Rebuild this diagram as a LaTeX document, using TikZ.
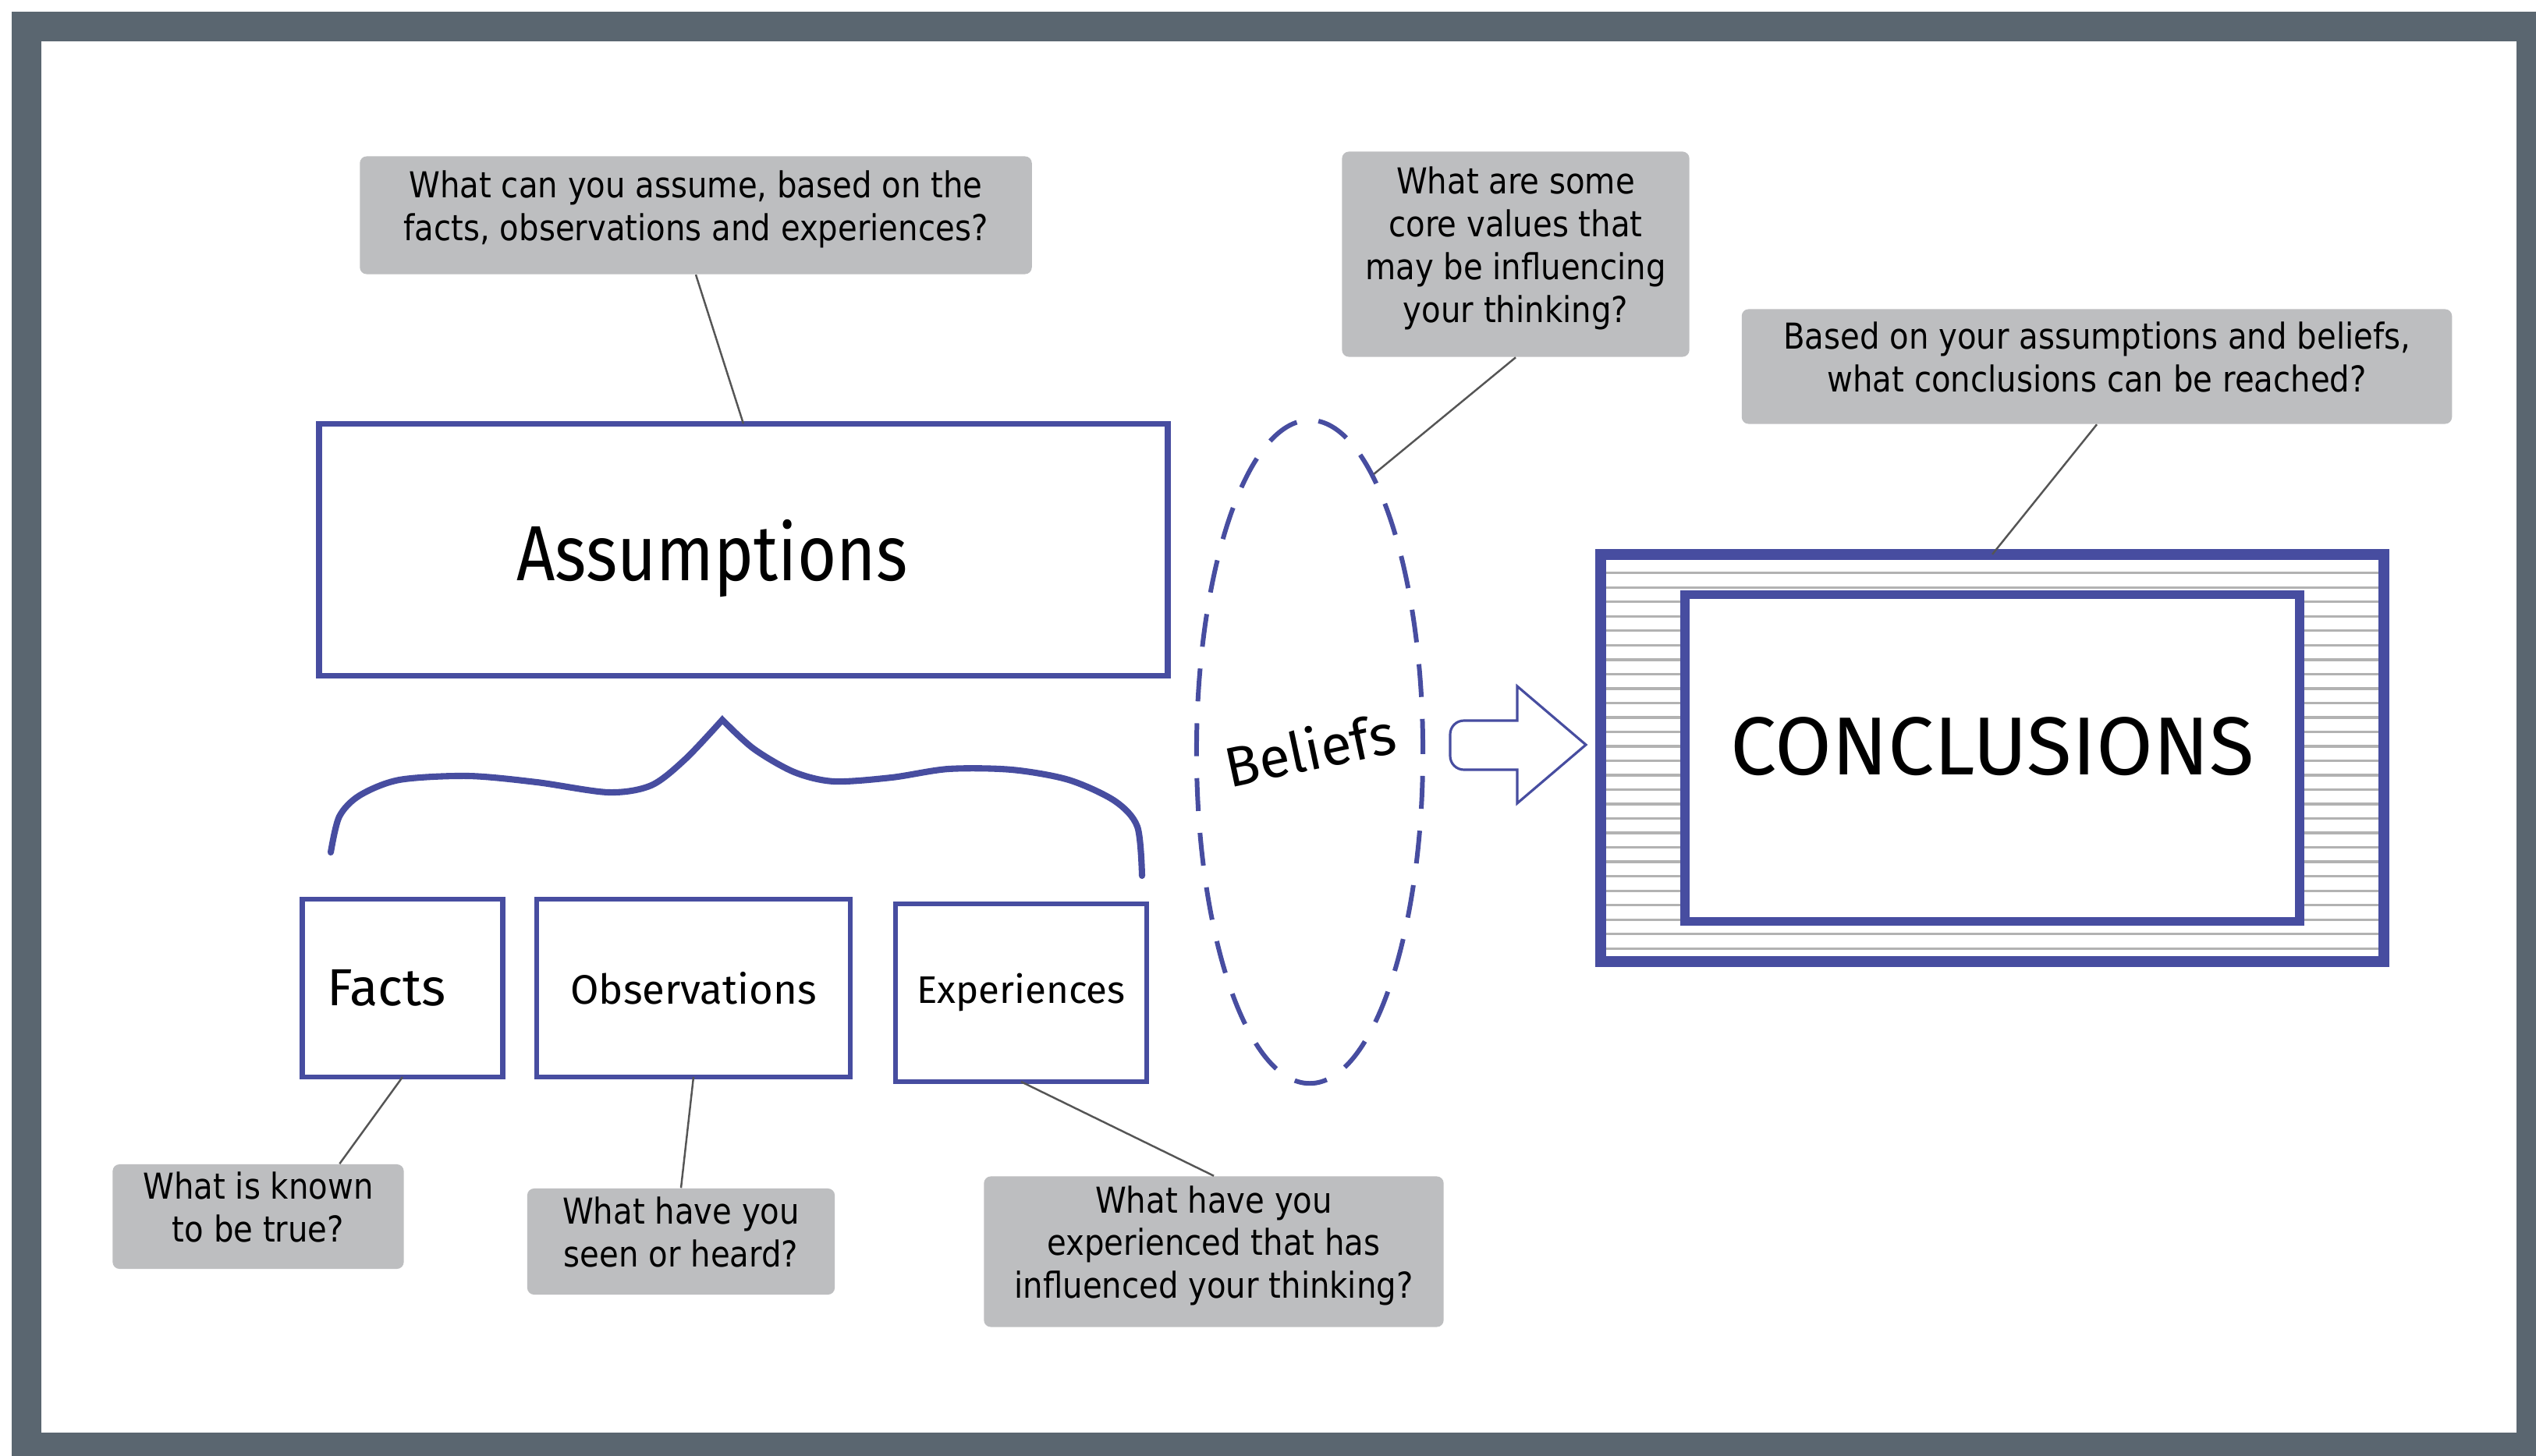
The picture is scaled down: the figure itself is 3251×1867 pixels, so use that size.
\documentclass[tikz,border=0pt]{standalone}
\usepackage{fontspec}
\usetikzlibrary{shapes.geometric}
\newfontfamily\qfont[FakeStretch=0.88]{DejaVu Sans}
\newfontfamily\handfont{Fira Sans}
\newfontfamily\handnarrow[FakeStretch=0.86]{Fira Sans}
\definecolor{sketchblue}{RGB}{71,77,160}
\definecolor{framegray}{RGB}{90,102,112}
\definecolor{qgray}{RGB}{189,190,192}
\definecolor{linkgray}{RGB}{85,85,85}
\definecolor{hatchgray}{RGB}{178,178,178}
\tikzset{
  qbox/.style={fill=qgray, rounded corners=2.5pt, inner sep=0pt, align=center,
    text depth=0.25cm, font=\qfont\fontsize{13}{15.6}\selectfont},
  sketchbox/.style={draw=sketchblue, line width=1.9pt, fill=white, inner sep=0pt, outer sep=0pt},
  link/.style={draw=linkgray, line width=0.7pt},
  brace/.style={draw=sketchblue, line width=2.3pt, line cap=round},
  hatch/.style={draw=hatchgray, line width=0.9pt},
  arrowline/.style={draw=sketchblue, line width=0.9pt, fill=white}
}
\begin{document}
\begin{tikzpicture}[x=0.01cm,y=-0.01cm]
  \useasboundingbox (0,0) rectangle (3251,1867);
  % frame
  \fill[framegray] (15,15) rectangle (3251,1867);
  \fill[white] (53,53) rectangle (3226,1837);

  % questions
  \node[qbox, minimum width=8.61cm, minimum height=1.51cm] (qassump) at (892,276)
    {What can you assume, based on the\\facts, observations and experiences?};
  \node[qbox, minimum width=4.45cm, minimum height=2.63cm] (qbelief) at (1943,326)
    {What are some\\core values that\\may be influencing\\your thinking?};
  \node[qbox, minimum width=9.10cm, minimum height=1.47cm] (qconcl) at (2688,470)
    {Based on your assumptions and beliefs,\\what conclusions can be reached?};
  \node[qbox, minimum width=3.73cm, minimum height=1.34cm] (qfacts) at (331,1560)
    {What is known\\to be true?};
  \node[qbox, minimum width=3.94cm, minimum height=1.36cm] (qobs) at (873,1592)
    {What have you\\seen or heard?};
  \node[qbox, minimum width=5.89cm, minimum height=1.93cm] (qexper) at (1556,1605)
    {What have you\\experienced that has\\influenced your thinking?};

  % assumptions and what they rest on
  \node[sketchbox, line width=2.2pt, minimum width=10.87cm, minimum height=3.23cm, text depth=0pt,
    font=\handnarrow\fontsize{28.5}{34}\selectfont] (assump) at (953,705) {\hspace*{-0.8cm}Assumptions};
  \node[sketchbox, minimum width=2.57cm, minimum height=2.28cm,
    font=\handfont\fontsize{19}{23}\selectfont] (facts) at (516,1267) {\hspace*{-0.4cm}Facts};
  \node[sketchbox, minimum width=4.02cm, minimum height=2.28cm,
    font=\handfont\fontsize{15}{19}\selectfont] (obs) at (889,1267) {Observations};
  \node[sketchbox, minimum width=3.22cm, minimum height=2.28cm,
    font=\handfont\fontsize{14}{18}\selectfont] (exper) at (1309,1273) {Experiences};

  \draw[brace] plot[smooth] coordinates {(424,1093) (435,1047) (461,1020) (512,1000) (600,995)
      (688,1003) (780,1016) (835,1007) (879,973) (926,923)}
    -- plot[smooth] coordinates {(926,923) (966,960) (1018,990) (1069,1002) (1143,997) (1216,986)
      (1297,987) (1370,1000) (1429,1027) (1458,1060) (1464,1123)};

  % beliefs
  \node[ellipse, draw=sketchblue, line width=1.7pt, dash pattern=on 12pt off 8pt,
    minimum width=2.9cm, minimum height=8.5cm, inner sep=0pt] (belief) at (1679,964) {};
  \node[rotate=12, font=\handfont\fontsize{20.5}{25}\selectfont] (belieftxt) at (1679,960) {Beliefs};

  \draw[arrowline] (1945,880) -- (2033,955) -- (1945,1030) -- (1945,987)
    {[rounded corners=5pt] -- (1859,987) -- (1859,924)} -- (1945,924) -- cycle;

  % conclusions
  \node[sketchbox, line width=4pt, minimum width=10.04cm, minimum height=5.22cm] (concl) at (2554,972) {};
  \foreach \k in {0,...,26}
    \draw[hatch] ([xshift=0.07cm, yshift={-0.24cm-\k*0.185cm}]concl.north west)
      -- ([xshift=-0.07cm, yshift={-0.24cm-\k*0.185cm}]concl.north east);
  \node[sketchbox, line width=3.3pt, minimum width=7.88cm, minimum height=4.19cm, text depth=0.3cm,
    font=\handfont\fontsize{30}{36}\selectfont] (conclin) at (2554,972) {CONCLUSIONS};

  % links
  \draw[link] (qassump.south) -- (assump.north);
  \draw[link] (qbelief.south) -- (belief.77);
  \draw[link] (qconcl.south) -- (concl.north);
  \draw[link] (facts.south) -- (qfacts.33);
  \draw[link] (obs.south) -- (qobs.north);
  \draw[link] (exper.south) -- (qexper.north);
\end{tikzpicture}
\end{document}
